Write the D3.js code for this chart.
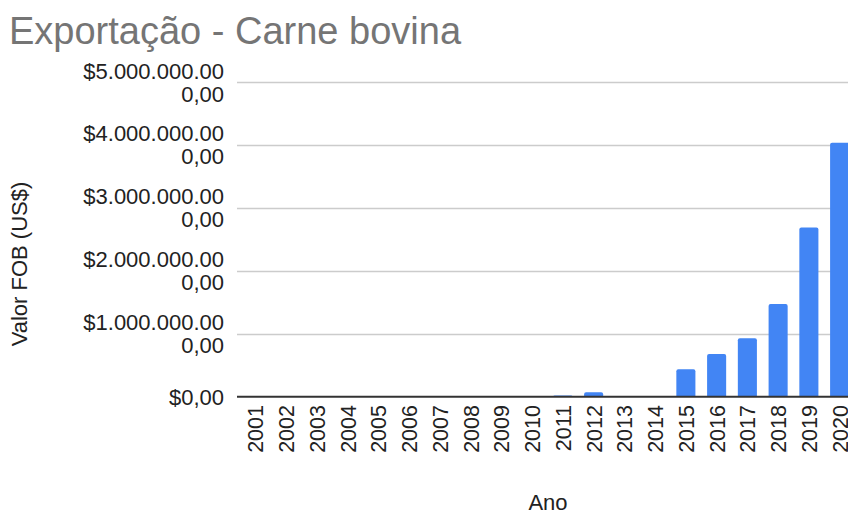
<!DOCTYPE html>
<html>
<head>
<meta charset="utf-8">
<script src="https://cdn.jsdelivr.net/npm/d3@7/dist/d3.min.js"></script>
<style>
html,body{margin:0;padding:0;background:#fff;}
svg{display:block;font-family:"Liberation Sans",Arial,sans-serif;}
</style>
</head>
<body>
<svg id="chart" width="848" height="514"></svg>
<script>
const years = ["2001","2002","2003","2004","2005","2006","2007","2008","2009","2010",
               "2011","2012","2013","2014","2015","2016","2017","2018","2019","2020"];
const values = [0,0,0,0,0,0,0,0,0,0,
                20000000,70000000,0,0,435000000,678000000,928000000,1473000000,2690000000,4035000000];
const yTicks = [0,1000000000,2000000000,3000000000,4000000000,5000000000];
const yTickLabels = [["$0,00"],["$1.000.000.00","0,00"],["$2.000.000.00","0,00"],["$3.000.000.00","0,00"],["$4.000.000.00","0,00"],["$5.000.000.00","0,00"]];
const title = "Exportação - Carne bovina";
const xTitle = "Ano";
const yTitle = "Valor FOB (US$)";

const svg = d3.select("#chart");
const plotLeft = 237, plotRight = 848;
const x = d3.scaleBand().domain(years).range([240, 855]).paddingInner(0.38).paddingOuter(0.19);
const y = d3.scaleLinear().domain([0, 5000000000]).range([396.7, 82]);

svg.append("text").attr("x", 9).attr("y", 44).attr("font-size", 38).attr("fill", "#757575").text(title);

// gridlines
svg.append("g").selectAll("line").data(yTicks.slice(1)).join("line")
  .attr("x1", plotLeft).attr("x2", plotRight)
  .attr("y1", d => Math.round(y(d)) + 0.5).attr("y2", d => Math.round(y(d)) + 0.5)
  .attr("stroke", "#cccccc").attr("stroke-width", 1.3);

// y labels
const yl = svg.append("g").selectAll("text").data(yTicks).join("text")
  .attr("x", 224).attr("text-anchor", "end").attr("font-size", 22).attr("fill", "#222");
yl.each(function(d, i) {
  const lines = yTickLabels[i];
  const t = d3.select(this);
  const cy = y(d);
  const lh = 23;
  lines.forEach((s, j) => {
    t.append("tspan").attr("x", 224)
      .attr("y", cy + (j - (lines.length - 1) / 2) * lh + 8).text(s);
  });
});

// bars
const r = 2;
svg.append("g").selectAll("path").data(values.map((v, i) => ({v, k: years[i]}))).join("path")
  .attr("fill", "#4285f4")
  .attr("d", d => {
    const x0 = x(d.k), w = x.bandwidth(), y0 = y(0), y1 = y(d.v);
    const h = y0 - y1;
    if (h <= 0) return "";
    const rr = Math.min(r, h);
    return `M${x0},${y0}V${y1 + rr}Q${x0},${y1} ${x0 + rr},${y1}H${x0 + w - rr}Q${x0 + w},${y1} ${x0 + w},${y1 + rr}V${y0}Z`;
  });

// baseline
svg.append("line").attr("x1", plotLeft).attr("x2", plotRight)
  .attr("y1", y(0)).attr("y2", y(0)).attr("stroke", "#333").attr("stroke-width", 2);

// x labels
svg.append("g").selectAll("text").data(years).join("text")
  .attr("transform", d => `translate(${x(d) + x.bandwidth() / 2 + 8},405) rotate(-90)`)
  .attr("text-anchor", "end").attr("font-size", 21.5).attr("fill", "#222").text(d => d);

svg.append("text").attr("x", 548).attr("y", 510).attr("text-anchor", "middle")
  .attr("font-size", 22).attr("fill", "#222").text(xTitle);
svg.append("text").attr("transform", "translate(27,264) rotate(-90)").attr("text-anchor", "middle")
  .attr("font-size", 22).attr("fill", "#222").text(yTitle);
</script>
</body>
</html>
